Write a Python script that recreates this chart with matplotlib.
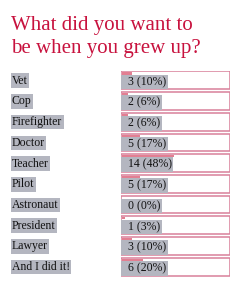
import matplotlib.pyplot as plt

choices = ['Vet', 'Cop', 'Firefighter', 'Doctor', 'Teacher', 'Pilot',
           'Astronaut', 'President', 'Lawyer', 'And I did it!']
votes = [3, 2, 2, 5, 14, 5, 0, 1, 3, 6]
percents = [10, 6, 6, 17, 48, 17, 0, 3, 10, 20]
title_lines = ['What did you want to', 'be when you grew up?']

W, H = 244, 305
fig = plt.figure(figsize=(W / 100, H / 100), dpi=100)
fig.patch.set_facecolor('white')

# full-figure axes in pixel units for title and labels
ax = fig.add_axes([0, 0, 1, 1])
ax.set_xlim(0, W)
ax.set_ylim(H, 0)
ax.axis('off')

for i, line in enumerate(title_lines):
    ax.text(11, 30 + 23 * i, line, color='#c8123e', fontsize=15,
            family='Liberation Serif', va='baseline', ha='left')

# bar area: x 121..230 px, rows from y=71 to 278
x0, x1 = 121, 230
y0, y1 = 71, 278
n = len(choices)
bx = fig.add_axes([x0 / W, 1 - y1 / H, (x1 - x0) / W, (y1 - y0) / H])
bx.set_xlim(0, 100)
bx.set_ylim(n, 0)
bx.axis('off')

box_h = 0.86
tops = [r + 0.02 for r in range(n)]
# outline boxes
bx.barh(tops, [100] * n, height=box_h, left=0, align='edge',
        facecolor='white', edgecolor='#d8809a', linewidth=1.1)
# thin pink bars at top of each box
bx.barh([t + 0.05 for t in tops], percents, height=0.1, left=0.5,
        color='#e27f92', align='edge')

row_h = (y1 - y0) / n
for r, (c, v, p) in enumerate(zip(choices, votes, percents)):
    yc = y0 + (r + 0.02 + box_h / 2 + 0.02) * row_h
    ax.text(12, yc, c, fontsize=8.5, family='Liberation Serif', va='center',
            ha='left', color='#111111',
            bbox=dict(facecolor='#b4b6c0', edgecolor='none', pad=0.9))
    bx.text(1.0, r + 0.02 + box_h / 2 + 0.08, '  %d (%d%%)' % (v, p),
            fontsize=8.5, family='Liberation Serif', va='center', ha='left',
            color='#111111',
            bbox=dict(facecolor='#b4b6c0', edgecolor='none', pad=0.9))

fig.savefig('out.png', dpi=100, facecolor='white')
